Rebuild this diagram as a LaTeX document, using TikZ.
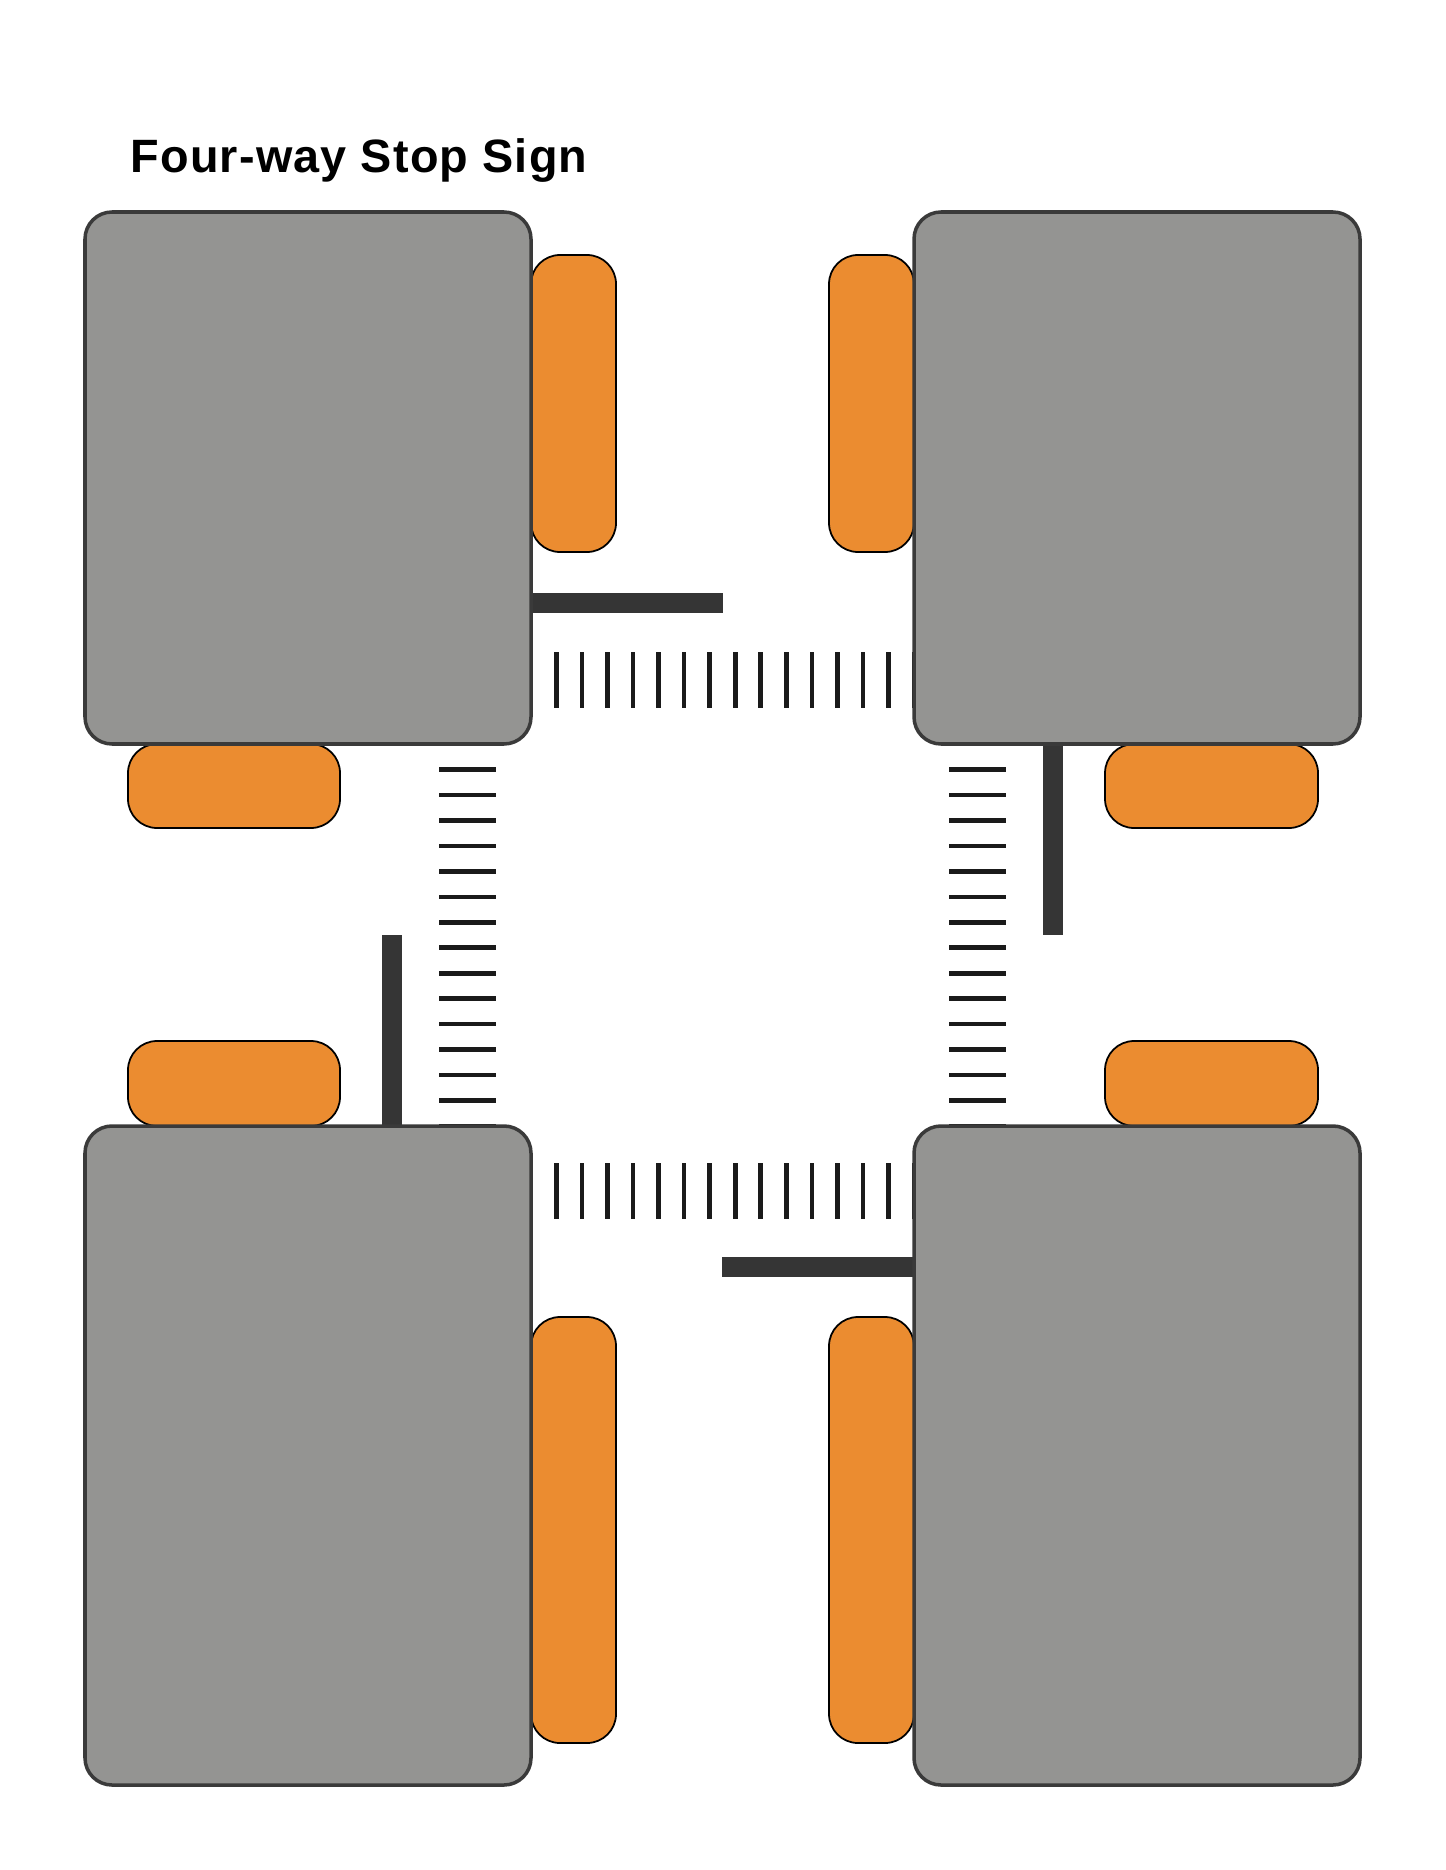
\documentclass[tikz,border=0pt]{standalone}
\usepackage{fontspec}
\setmainfont{Liberation Sans}
\definecolor{blockgray}{RGB}{148,148,146}
\definecolor{blockline}{RGB}{58,58,58}
\definecolor{curbtab}{RGB}{235,140,48}
\definecolor{barcol}{RGB}{53,53,53}
\definecolor{stripecol}{RGB}{26,26,26}
\begin{document}
\begin{tikzpicture}[x=0.01cm, y=-0.01cm,
    block/.style={fill=blockgray, draw=blockline, line width=1pt, rounded corners=0.27cm},
    curb/.style={fill=curbtab, draw=black, line width=0.5pt, rounded corners=0.29cm},
    stopbar/.style={draw=barcol, line width=0.2cm},
    stripe/.style={draw=stripecol, line width=0.046cm}]
      \useasboundingbox (0,0) rectangle (1445,1870);
      %
      \node[anchor=base west, inner sep=0pt,
        font=\fontsize{13.3}{16}\selectfont\bfseries\addfontfeature{LetterSpace=2.5}]
        (title) at (130,173) {Four-way Stop Sign};
      %
      \foreach \i in {0,...,15} {
        \draw[stripe] ({531+25.53*\i},652) -- ++(0,56);    % top crossing
        \draw[stripe] ({531+25.53*\i},1163) -- ++(0,56);   % bottom crossing
        \draw[stripe] (439,{744+25.47*\i}) -- ++(57,0);    % left crossing
        \draw[stripe] (949,{744+25.47*\i}) -- ++(57,0);    % right crossing
      }
      %
      \draw[stopbar] (531,603) -- (723,603);     % top left
      \draw[stopbar] (1053,744) -- (1053,935);   % top right
      \draw[stopbar] (392,935) -- (392,1126);    % bottom left
      \draw[stopbar] (722,1267) -- (914,1267);   % bottom right
      %
      \draw[curb] (531,255) rectangle (616,552);
      \draw[curb] (128,744) rectangle (340,828);
      \draw[curb] (829,255) rectangle (914,552);
      \draw[curb] (1105,744) rectangle (1318,828);
      %%
      \draw[curb] (128,1041) rectangle (340,1126);
      \draw[curb] (531,1317) rectangle (616,1743);
      \draw[curb] (1105,1041) rectangle (1318,1126);
      \draw[curb] (829,1317) rectangle (914,1743);
      %
      \draw[block] (85,212) rectangle (531,744);      % top left block
      \draw[block] (914,212) rectangle (1360,744);    % top right block
      \draw[block] (85,1126) rectangle (531,1785);    % bottom left block
      \draw[block] (914,1126) rectangle (1360,1785);  % bottom right block
      %
\end{tikzpicture}
\end{document}
